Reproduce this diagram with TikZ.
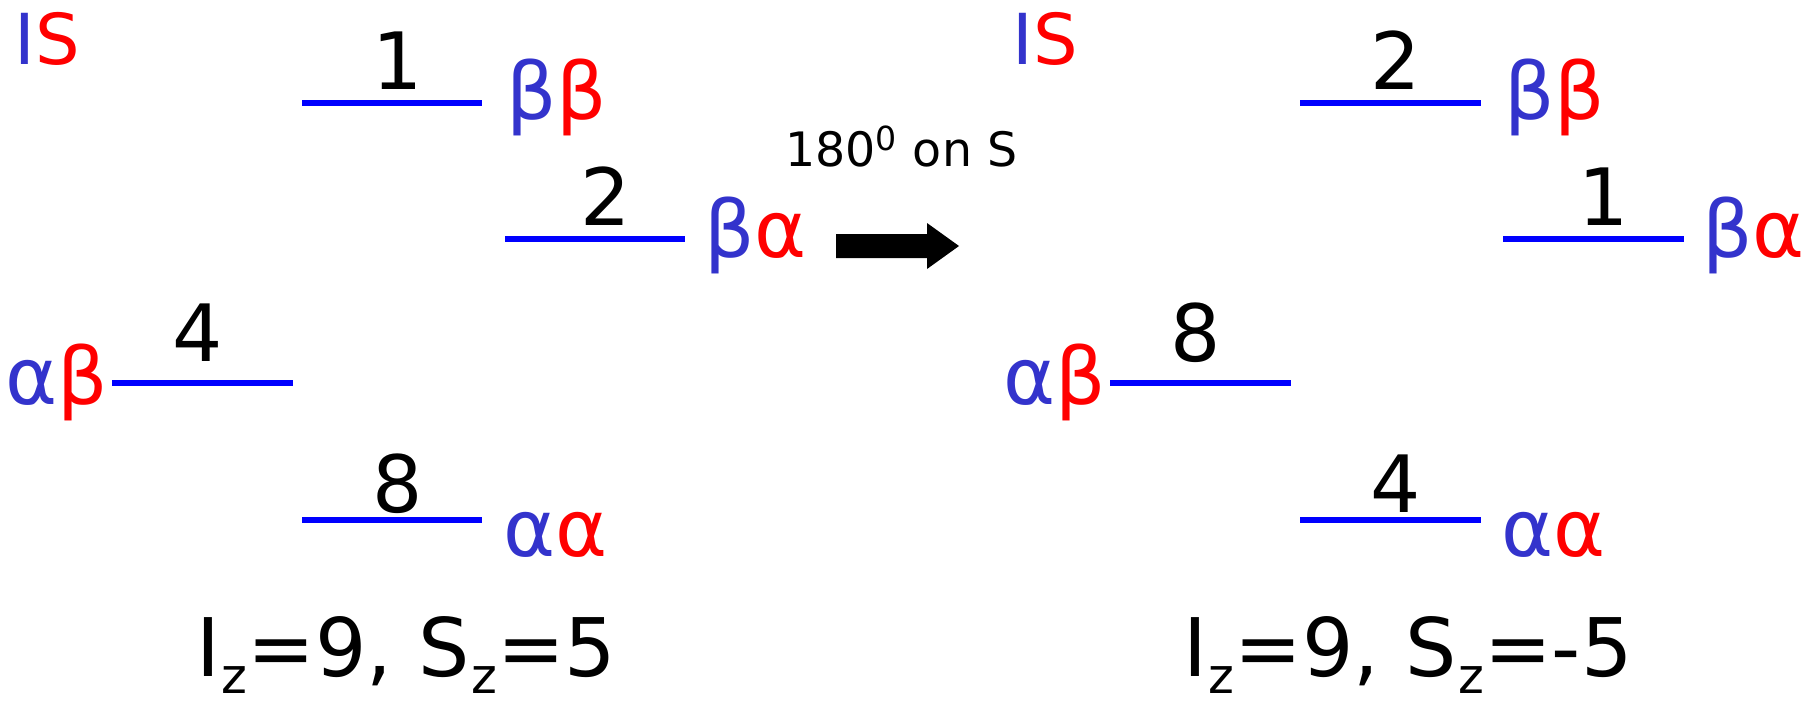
\documentclass[tikz,border=0pt]{standalone}
\usepackage{fontspec}
\setmainfont{DejaVu Sans}
\definecolor{isblue}{RGB}{51,51,204}
\definecolor{lvblue}{RGB}{0,0,255}
\definecolor{sred}{RGB}{255,0,0}
\newcommand{\Ib}[1]{\textcolor{isblue}{#1}}
\newcommand{\Sr}[1]{\textcolor{sred}{#1}}
\begin{document}
\begin{tikzpicture}[x=0.02cm,y=-0.02cm,
  level/.style={draw=lvblue,line width=3.4pt},
  num/.style={inner sep=0pt,anchor=base,font=\fontsize{45}{54}\selectfont},
  spin/.style={inner sep=0pt,anchor=base west,font=\fontsize{45}{54}\selectfont},
  head/.style={inner sep=0pt,anchor=base west,font=\fontsize{40}{48}\selectfont},
  sums/.style={inner sep=0pt,anchor=base west,font=\fontsize{46}{55}\selectfont},
  pulse/.style={inner sep=0pt,anchor=base west,font=\fontsize{27}{33}\selectfont}]
\useasboundingbox (0,0) rectangle (1809,703);
\newcommand{\zsub}{\hspace{1pt}\raisebox{-10pt}{\fontsize{28}{34}\selectfont z}}
% ---- left panel
\node[head] (isL) at (14,64) {\Ib{I}\Sr{S}};
\coordinate (a1) at (302,103); \coordinate (b1) at (482,103);
\coordinate (a2) at (505,239); \coordinate (b2) at (685,239);
\coordinate (a4) at (112,383); \coordinate (b4) at (293,383);
\coordinate (a8) at (302,520); \coordinate (b8) at (482,520);
\draw[level] (a1) -- (b1);
\draw[level] (a2) -- (b2);
\draw[level] (a4) -- (b4);
\draw[level] (a8) -- (b8);
\node[num] (n1) at (398,89) {1};
\node[num] (n2) at (606,225) {2};
\node[num] (n4) at (198,361) {4};
\node[num] (n8) at (398,512) {8};
\node[spin] (bbL) at (506,119) {\Ib{β}\Sr{β}};
\node[spin] (baL) at (704,257) {\Ib{β}\Sr{α}};
\node[spin, anchor=base east] (abL) at (108,404) {\Ib{α}\Sr{β}};
\node[spin] (aaL) at (503,556) {\Ib{α}\Sr{α}};
\node[sums] (sumL) at (196,676) {I\zsub{}=9, S\zsub{}=5};
% ---- pulse arrow
\node[pulse] (pl) at (785,166) {180\textsuperscript{0} on S};
\coordinate (p1) at (836,234); \coordinate (p2) at (927,234);
\coordinate (p3) at (927,223); \coordinate (p4) at (959,246);
\coordinate (p5) at (927,269); \coordinate (p6) at (927,258);
\coordinate (p7) at (836,258);
\fill[black] (p1) -- (p2) -- (p3) -- (p4) -- (p5) -- (p6) -- (p7) -- cycle;
% ---- right panel
\node[head] (isR) at (1012,64) {\Ib{I}\Sr{S}};
\coordinate (c2) at (1300,103); \coordinate (d2) at (1481,103);
\coordinate (c1) at (1503,239); \coordinate (d1) at (1684,239);
\coordinate (c8) at (1110,383); \coordinate (d8) at (1291,383);
\coordinate (c4) at (1300,520); \coordinate (d4) at (1481,520);
\draw[level] (c2) -- (d2);
\draw[level] (c1) -- (d1);
\draw[level] (c8) -- (d8);
\draw[level] (c4) -- (d4);
\node[num] (m2) at (1396,89) {2};
\node[num] (m1) at (1604,225) {1};
\node[num] (m8) at (1196,361) {8};
\node[num] (m4) at (1396,512) {4};
\node[spin] (bbR) at (1504,119) {\Ib{β}\Sr{β}};
\node[spin] (baR) at (1702,257) {\Ib{β}\Sr{α}};
\node[spin, anchor=base east] (abR) at (1106,404) {\Ib{α}\Sr{β}};
\node[spin] (aaR) at (1501,556) {\Ib{α}\Sr{α}};
\node[sums] (sumR) at (1183,676) {I\zsub{}=9, S\zsub{}=-5};
\end{tikzpicture}
\end{document}
